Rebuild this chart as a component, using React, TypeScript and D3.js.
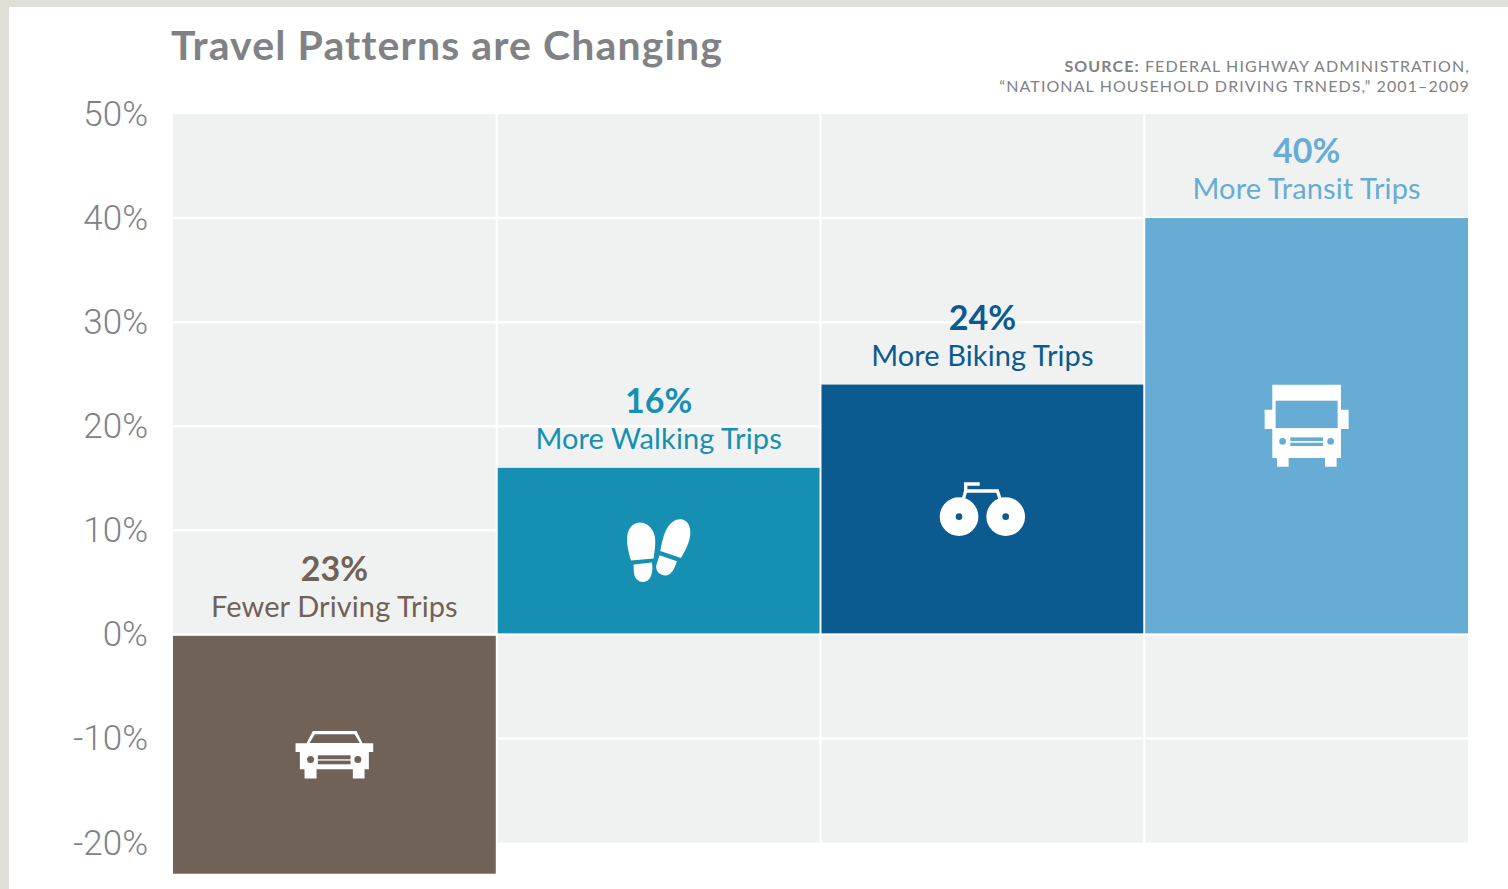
import React from "react";
import * as d3 from "d3";

const categories = ["driving", "walking", "biking", "transit"];
const changes = [-23, 16, 24, 40];
const captions = ["Fewer Driving Trips", "More Walking Trips", "More Biking Trips", "More Transit Trips"];
const colors = ["#716257", "#1690b2", "#0b5a90", "#66acd5"];

const WIDTH = 1508;
const HEIGHT = 889;
const PANEL = { left: 173, right: 1468, top: 114, bottom: 842.5 };
const GREY = "#808285";
const FONT = "Lato, 'Open Sans', sans-serif";
const TICK_FONT = "Roboto, Lato, sans-serif";

const y = d3.scaleLinear().domain([-20, 50]).range([PANEL.bottom, PANEL.top]);
const x = d3.scaleBand<string>().domain(categories).range([PANEL.left, PANEL.right]);

// Each glyph is drawn in its own local units, about a centre point, at one third scale.
function Glyph({ cx, cy, ox, oy, children }: { cx: number; cy: number; ox: number; oy: number; children: React.ReactNode }) {
  return (
    <g transform={`translate(${cx},${cy}) scale(${1 / 3}) translate(${-ox},${-oy})`} fill="#fff">
      {children}
    </g>
  );
}

function Car({ cx, cy, bg }: { cx: number; cy: number; bg: string }) {
  return (
    <Glyph cx={cx} cy={cy} ox={281.5} oy={174.5}>
      <path d="M217 103 H348 L366 140 H398 V166 H385 V218 H372 V246 H337 V218 H228 V246 H192 V218 H178 V166 H165 V140 H198 Z" />
      <path d="M223 113 H342 L358 139 H207 Z" fill={bg} />
      <circle cx={210} cy={189} r={10.5} fill={bg} />
      <circle cx={352} cy={189} r={10.5} fill={bg} />
      <rect x={232} y={176} width={98} height={12} fill={bg} />
      <rect x={232} y={192} width={98} height={11} fill={bg} />
    </Glyph>
  );
}

function Shoes({ cx, cy }: { cx: number; cy: number }) {
  return (
    <Glyph cx={cx} cy={cy} ox={175} oy={144}>
      <path d="M92 174 C84 145 78 120 81 100 C84 75 100 60 120 60 C145 60 165 85 165 115 C165 135 162 150 160 168 Z" />
      <path d="M100 186 L155 180 C157 195 157 205 153 217 C148 232 138 238 128 238 C112 238 103 225 101 212 C100 203 100 195 100 186 Z" />
      <path d="M180 145 C185 120 190 95 200 78 C210 60 225 50 240 50 C260 50 272 70 270 95 C268 120 255 145 242 166 Z" />
      <path d="M178 158 L230 176 C225 190 220 205 210 213 C200 222 188 220 178 213 C168 206 166 195 169 185 C172 175 175 167 178 158 Z" />
    </Glyph>
  );
}

function Bike({ cx, cy, bg }: { cx: number; cy: number; bg: string }) {
  return (
    <Glyph cx={cx} cy={cy} ox={188} oy={114}>
      <path d="M180 39 H138 V60 L131 84 M138 60 H233 L241 84" fill="none" stroke="#fff" strokeWidth={10} />
      <circle cx={118} cy={137} r={58} />
      <circle cx={258} cy={137} r={58} />
      <circle cx={118} cy={137} r={10} fill={bg} />
      <circle cx={258} cy={137} r={10} fill={bg} />
    </Glyph>
  );
}

function Bus({ cx, cy, bg }: { cx: number; cy: number; bg: string }) {
  return (
    <Glyph cx={cx} cy={cy} ox={171} oy={153}>
      <path d="M68 30 H274 V105 H297 V163 H274 V250 H261 V276 H226 V250 H117 V276 H82 V250 H68 V163 H45 V105 H68 Z" />
      <rect x={78} y={78} width={186} height={82} fill={bg} />
      <circle cx={99} cy={200} r={10} fill={bg} />
      <circle cx={243} cy={200} r={10} fill={bg} />
      <rect x={122} y={188} width={98} height={11} fill={bg} />
      <rect x={122} y={204} width={98} height={10} fill={bg} />
    </Glyph>
  );
}

export default function App() {
  const band = x.bandwidth();
  const gridTicks = y.ticks(7);

  return (
    <svg
      width={WIDTH}
      height={HEIGHT}
      viewBox={`0 0 ${WIDTH} ${HEIGHT}`}
      style={{ position: "fixed", left: 0, top: 0, display: "block", background: "#fff" }}
    >
      {/* page border along the top and left edges */}
      <rect x={0} y={0} width={WIDTH} height={7} fill="#dfdfd8" />
      <rect x={0} y={0} width={9} height={HEIGHT} fill="#dfdfd8" />

      <text x={171} y={60} fontFamily={FONT} fontWeight={700} fontSize={41} letterSpacing={1.1} fill={GREY}>
        Travel Patterns are Changing
      </text>
      <text x={1470} y={72} textAnchor="end" fontFamily={FONT} fontSize={16} letterSpacing={1.1} fill={GREY}>
        <tspan fontWeight={700}>SOURCE:</tspan> FEDERAL HIGHWAY ADMINISTRATION,
      </text>
      <text x={1470} y={92} textAnchor="end" fontFamily={FONT} fontSize={16} letterSpacing={1.1} fill={GREY}>
        “NATIONAL HOUSEHOLD DRIVING TRNEDS,” 2001–2009
      </text>

      {/* plot panel with white rules */}
      <rect x={PANEL.left} y={PANEL.top} width={PANEL.right - PANEL.left} height={PANEL.bottom - PANEL.top} fill="#f0f2f1" />
      {gridTicks.filter((t) => t > -20 && t < 50).map((t) => (
        <line key={t} x1={PANEL.left} x2={PANEL.right} y1={y(t)} y2={y(t)} stroke="#fff" strokeWidth={2.5} />
      ))}
      {categories.slice(1).map((c) => (
        <line key={c} x1={x(c)!} x2={x(c)!} y1={PANEL.top} y2={PANEL.bottom} stroke="#fff" strokeWidth={2} />
      ))}

      {gridTicks.map((t) => (
        <text
          key={t}
          x={148}
          y={y(t)}
          dy={12}
          textAnchor="end"
          fontFamily={TICK_FONT}
          fontWeight={300}
          fontSize={35}
          fill={GREY}
        >
          {`${t}%`}
        </text>
      ))}

      {categories.map((c, i) => {
        const v = changes[i];
        const x0 = x(c)! + (i === 0 ? 0 : 1);
        const x1 = x(c)! + band - (i === 3 ? 0 : 1);
        const top = v > 0 ? y(v) : y(0) + 1.5;
        const bottom = v > 0 ? y(0) - 1 : y(v);
        const mid = (x0 + x1) / 2;
        const cy = (top + bottom) / 2;
        const anchor = v > 0 ? top : y(0) + 2;
        return (
          <g key={c}>
            <rect x={x0} y={top} width={x1 - x0} height={bottom - top} fill={colors[i]} />
            <text x={mid} y={anchor - 55} textAnchor="middle" fontFamily={FONT} fontWeight={700} fontSize={34} fill={colors[i]}>
              {`${Math.abs(v)}%`}
            </text>
            <text x={mid} y={anchor - 19} textAnchor="middle" fontFamily={FONT} fontWeight={400} fontSize={29} letterSpacing={0.1} fill={colors[i]}>
              {captions[i]}
            </text>
            {c === "driving" && <Car cx={mid} cy={cy} bg={colors[i]} />}
            {c === "walking" && <Shoes cx={mid} cy={cy} />}
            {c === "biking" && <Bike cx={mid} cy={cy} bg={colors[i]} />}
            {c === "transit" && <Bus cx={mid} cy={cy} bg={colors[i]} />}
          </g>
        );
      })}
    </svg>
  );
}
